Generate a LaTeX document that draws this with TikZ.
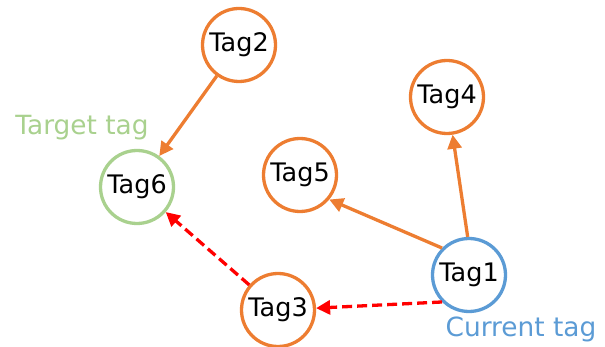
\documentclass[tikz,border=0pt]{standalone}
\usepackage{fontspec}
\setmainfont{DejaVu Sans}
\usetikzlibrary{arrows.meta}

\definecolor{tagorange}{HTML}{ED7D31}
\definecolor{taggreen}{HTML}{A9D18E}
\definecolor{tagblue}{HTML}{5B9BD5}

\begin{document}
\begin{tikzpicture}[
  x=1pt, y=-1pt,
  tag/.style={
    draw=tagorange,
    circle,
    line width=3.3pt,
    minimum size=73pt,
    inner sep=0pt,
    font=\fontsize{25.5}{27}\selectfont
  },
  link/.style={
    draw=tagorange,
    line width=3.3pt,
    -{Triangle[length=14pt,width=14pt]}
  },
  jump/.style={
    draw=red,
    line width=3.3pt,
    dash pattern=on 10pt off 5pt,
    -{Triangle[length=14pt,width=14pt]}
  },
  caption/.style={font=\fontsize{26.4}{28}\selectfont, inner sep=0pt}
]
  \useasboundingbox (0,0) rectangle (605,347);

  \node[tag]                  (t2) at (239,45)  {Tag2};
  \node[tag]                  (t4) at (447,97)  {Tag4};
  \node[tag]                  (t5) at (300,175) {Tag5};
  \node[tag, draw=taggreen]   (t6) at (137,187) {Tag6};
  \node[tag, draw=tagblue]    (t1) at (469,275) {Tag1};
  \node[tag]                  (t3) at (278,310) {Tag3};

  \node[caption, text=taggreen] (target)  at (82,128)  {Target tag};
  \node[caption, text=tagblue]  (current) at (521,329) {Current tag};

  \draw[link] (t2) -- (t6);
  \draw[link] (t1.92) -- (t4);
  \draw[link] (t1.135) -- (t5.-40);
  \draw[jump] (t1.225) -- (t3);
  \draw[jump] (t3) -- (t6);
\end{tikzpicture}
\end{document}
